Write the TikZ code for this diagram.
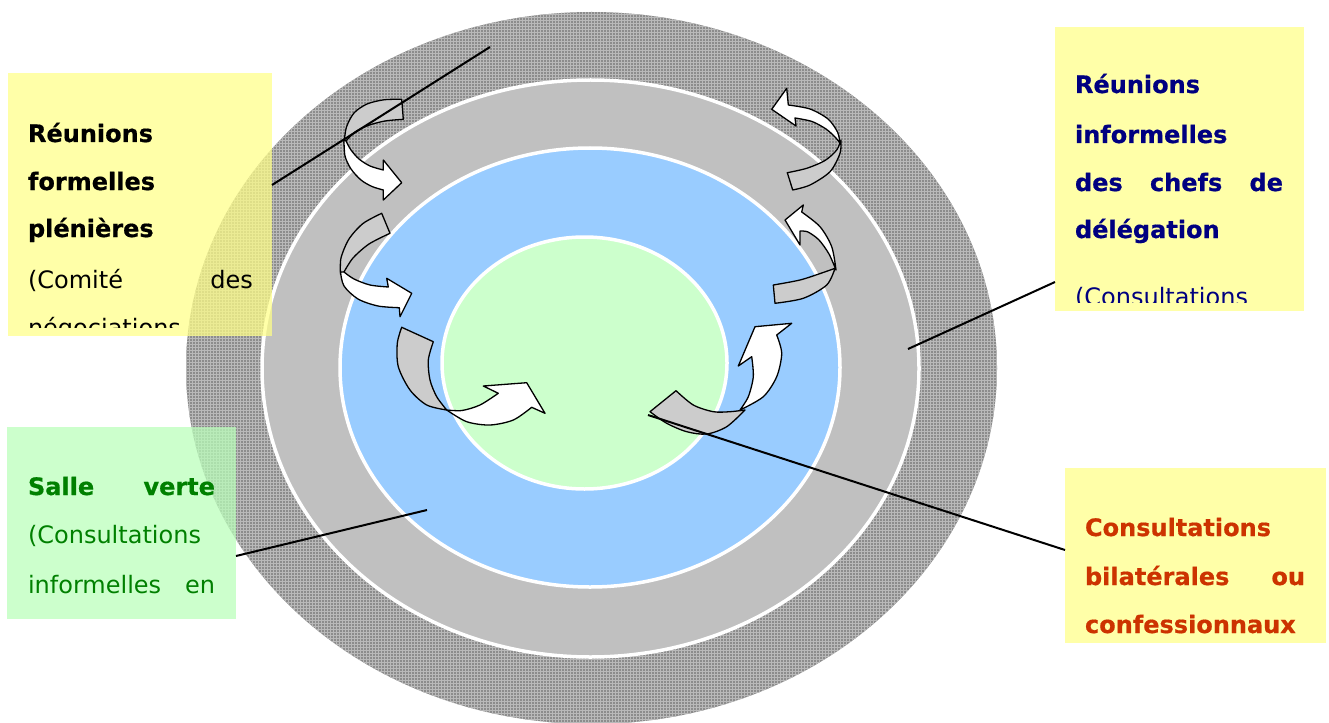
\documentclass[tikz,border=0pt]{standalone}
\usepackage{fontspec}
\setmainfont{DejaVu Sans}[BoldFont={DejaVu Sans Bold},BoldFeatures={FakeBold=0.6}]
\usetikzlibrary{patterns}
\definecolor{ringdark}{RGB}{140,140,140}
\definecolor{ringdot}{RGB}{185,185,185}
\definecolor{ringlight}{RGB}{192,192,192}
\definecolor{ringblue}{RGB}{153,204,255}
\definecolor{ringgreen}{RGB}{204,255,204}
\definecolor{boxyellow}{RGB}{255,255,135}
\definecolor{boxgreen}{RGB}{185,255,185}
\definecolor{txtnavy}{RGB}{0,0,128}
\definecolor{txtgreen}{RGB}{0,128,0}
\definecolor{txtorange}{RGB}{204,51,0}
\definecolor{arrowgray}{RGB}{204,204,204}
\begin{document}
\begin{tikzpicture}[x=1pt,y=-1pt,
  ring/.style={draw=white,line width=3.5pt},
  arrback/.style={fill=arrowgray,draw=black,line width=1.3pt,line join=round},
  arrfront/.style={fill=white,draw=black,line width=1.3pt,line join=round},
  conn/.style={draw=black,line width=2pt},
  tbox/.style={rectangle,inner sep=0pt,outer sep=0pt,fill opacity=0.72,draw=none},
  txt/.style={anchor=base west,inner sep=0pt,outer sep=0pt,font=\fontsize{24}{28}\selectfont},
  btxt/.style={txt,font=\fontsize{24}{28}\selectfont\bfseries}]
\useasboundingbox (0,0) rectangle (1329,722);
\fill[white] (0,0) rectangle (1329,722);
% rings
\fill[ringdark] (591.5,368) ellipse [x radius=405.5, y radius=356];
\fill[pattern=grid, pattern color=ringdot] (591.5,368) ellipse [x radius=405.5, y radius=356];
\filldraw[ring,fill=ringlight] (590.5,368.5) ellipse [x radius=328.5, y radius=288.5];
\filldraw[ring,fill=ringblue] (590,367.5) ellipse [x radius=250, y radius=219.5];
\filldraw[ring,fill=ringgreen] (584.5,363) ellipse [x radius=142.5, y radius=126];
% arrow A
\filldraw[arrback] plot[smooth] coordinates {(401.7,99.3) (384,99.8) (367,104) (354,113) (346.5,127) (344,143)}
  -- plot[smooth] coordinates {(346,141) (355,132) (368,125.5) (385,121) (403.3,119.3)} -- cycle;
\filldraw[arrfront] plot[smooth] coordinates {(344,140) (345,156) (351,169) (361,180) (372,186.5) (383.3,190)}
  -- (383.3,200) -- (401.7,182.7) -- (383.3,160)
  -- plot[smooth] coordinates {(383.3,170) (370,166) (359,159) (351,150) (346,141)} -- cycle;
% arrow B
\filldraw[arrback] plot[smooth] coordinates {(381.7,213.3) (363,223.5) (349,239) (341,258) (340.5,274)}
  -- plot[smooth] coordinates {(344,272) (353,258) (369,244) (390,233.3)} -- cycle;
\filldraw[arrfront] plot[smooth] coordinates {(340.5,272) (344,286) (358,299) (378,306) (399.3,307.7)}
  -- (400,316.7) -- (411.7,293.3) -- (386.7,278.3)
  -- plot[smooth] coordinates {(388.3,287) (370,285) (354,279) (344,272)} -- cycle;
% arrow C
\filldraw[arrback] plot[smooth] coordinates {(401.7,327.3) (397.3,343.3) (398.3,366.7) (410,390) (426.7,405) (446.7,410)}
  -- plot[smooth] coordinates {(446.7,410) (436.7,396.7) (430,380) (428.3,360) (433.3,341.7)} -- cycle;
\filldraw[arrfront] plot[smooth] coordinates {(446.7,410) (466.7,421.7) (490,425) (513.3,420) (531.7,407.3)}
  -- (545,413.3) -- (526.7,382.7) -- (483.3,386) -- (498.3,393.3)
  -- plot[smooth] coordinates {(498.3,393.3) (480,405) (462,410.5) (446.7,410)} -- cycle;
% arrow D
\filldraw[arrback] plot[smooth] coordinates {(650,411.7) (666.7,423.3) (686.7,431.7) (706.7,434) (726.7,426.7) (745,410)}
  -- plot[smooth] coordinates {(745,410) (730,411.7) (713.3,411.7) (693.3,405) (676,390.7)} -- cycle;
\filldraw[arrfront] plot[smooth] coordinates {(740,410) (763.3,396.7) (776.7,376.7) (781.7,353.3) (776.7,335)}
  -- (791.7,323.3) -- (755,326.7) -- (738.3,366) -- (751.7,356.7)
  -- plot[smooth] coordinates {(751.7,356.7) (753.3,376.7) (748.3,396.7) (740,410)} -- cycle;
% arrow E
\filldraw[arrback] (787.3,172.7) -- (792.7,190)
  -- plot[smooth] coordinates {(792.7,190) (810,185) (830,171.7) (840,153.3) (841,140)}
  -- plot[smooth] coordinates {(841,140) (836.7,150) (825,160.5) (806.7,168.3) (787.3,172.7)} -- cycle;
\filldraw[arrfront] (771.7,109.3) -- (786.7,88.3) -- (788.3,105)
  -- plot[smooth] coordinates {(788.3,105) (810,109) (828,119) (837.5,132) (840,143)}
  -- plot[smooth] coordinates {(840,143) (835,137) (826,129) (812,121.5) (795,118)}
  -- (796,126) -- cycle;
% arrow F
\filldraw[arrback] (773.3,285) -- (775,303.3)
  -- plot[smooth] coordinates {(775,303.3) (803.3,298.3) (826.7,285) (835,268.3)}
  -- plot[smooth] coordinates {(835,268.3) (821.7,273) (800,280) (773.3,285)} -- cycle;
\filldraw[arrfront] (785,220) -- (803.3,205) -- (801.7,212)
  -- plot[smooth] coordinates {(801.7,212) (820,226.7) (831.7,246.7) (836,270)}
  -- plot[smooth] coordinates {(836,270) (829,254) (819,240) (808,232) (800,231)}
  -- (800,245) -- cycle;
% boxes
\node[tbox,fill=boxyellow,minimum width=264pt,minimum height=263pt] (plen) at (140,204.5) {};
\node[tbox,fill=boxyellow,minimum width=249pt,minimum height=284pt] (chefs) at (1179.5,169) {};
\node[tbox,fill=boxgreen,minimum width=229pt,minimum height=192pt] (verte) at (121.5,523) {};
\node[tbox,fill=boxyellow,minimum width=261pt,minimum height=175pt] (bila) at (1195.5,555.5) {};
% connector targets
\coordinate (c1) at (490,47);
\coordinate (c2) at (908,349);
\coordinate (c3) at (427,510);
\coordinate (c4) at (648,415);
\draw[conn] ([yshift=19.5pt]plen.east) -- (c1);
\draw[conn] ([yshift=-113pt]chefs.west) -- (c2);
\draw[conn] ([yshift=-33pt]verte.east) -- (c3);
\draw[conn] ([yshift=5.5pt]bila.west) -- (c4);
% texts box 1
\begin{scope}
\clip (8,73) rectangle (272,327);
\node[btxt] (t1a) at (28,142) {Réunions};
\node[btxt] (t1b) at (28,190) {formelles};
\node[btxt] (t1c) at (28,237) {plénières};
\node[txt] (t1d) at (28,288) {\hbox to 225pt{(Comité\hfill des}};
\node[txt] (t1e) at (28,336) {négociations};
\end{scope}
% texts box 2
\begin{scope}
\clip (1055,27) rectangle (1304,302);
\node[btxt,text=txtnavy] (t2a) at (1075,93) {Réunions};
\node[btxt,text=txtnavy] (t2b) at (1075,143) {informelles};
\node[btxt,text=txtnavy] (t2c) at (1075,191) {\hbox to 208pt{des\hfill chefs\hfill de}};
\node[btxt,text=txtnavy] (t2d) at (1075,238) {délégation};
\node[txt,text=txtnavy] (t2e) at (1075,305) {(Consultations};
\end{scope}
% texts box 3
\node[btxt,text=txtgreen] (t3a) at (28,495) {\hbox to 187pt{Salle\hfill verte}};
\node[txt,text=txtgreen] (t3b) at (28,543) {(Consultations};
\node[txt,text=txtgreen] (t3c) at (28,593) {\hbox to 187pt{informelles\hfill en}};
% texts box 4
\node[btxt,text=txtorange] (t4a) at (1085,536) {Consultations};
\node[btxt,text=txtorange] (t4b) at (1085,585) {\hbox to 220pt{bilatérales\hfill ou}};
\node[btxt,text=txtorange] (t4c) at (1085,633) {confessionnaux};
\end{tikzpicture}
\end{document}
